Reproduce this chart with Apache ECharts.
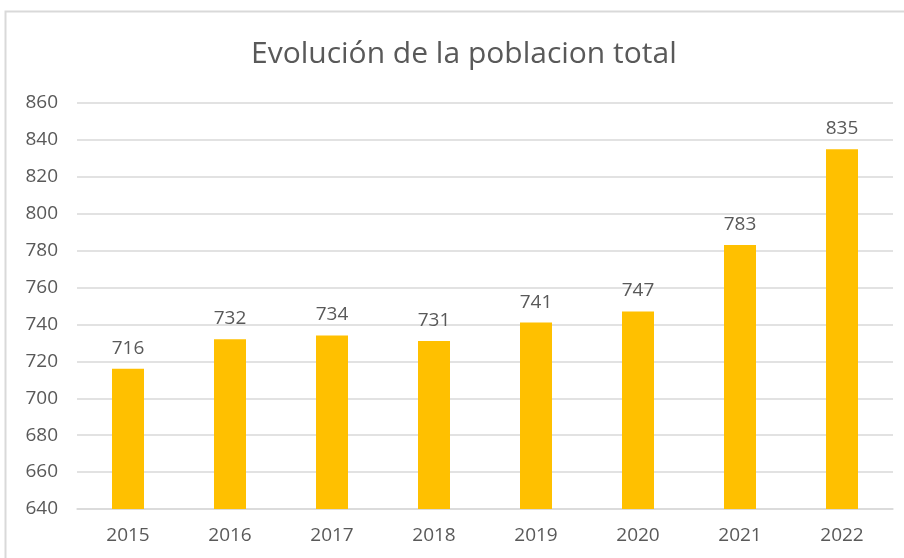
<!DOCTYPE html>
<html>
<head>
    <meta charset="utf-8">
    <title>Evolución de la poblacion total</title>
    <script src="https://cdn.jsdelivr.net/npm/echarts@6/dist/echarts.min.js"></script>
</head>
<body>
<div id="main"></div>
<style type="text/css">
    html, body {
        height: 100%;
        margin: 0;
        padding: 0;
        background: #fff;
    }

    #main {
        width: 904px;
        height: 558px
    }
</style>

<script type="text/javascript">
    var years = ['2015', '2016', '2017', '2018', '2019', '2020', '2021', '2022'];
    var poblacion = [716, 732, 734, 731, 741, 747, 783, 835];

    var fuente = '"Open Sans", "Noto Sans", sans-serif';
    var gris = '#595959';

    var myChart = echarts.init(document.getElementById('main'));

    var option = {
        backgroundColor: '#fff',
        animation: false,
        textStyle: { fontFamily: fuente },
        graphic: [{
            type: 'rect',
            shape: { x: 5.5, y: 11.5, width: 920, height: 560 },
            style: { fill: 'none', stroke: '#d9d9d9', lineWidth: 2 },
            silent: true
        }],
        title: {
            text: 'Evolución de la poblacion total',
            left: 246,
            top: 34,
            textStyle: {
                color: gris,
                fontSize: 30,
                fontWeight: 'normal',
                fontFamily: fuente
            }
        },
        grid: {
            left: 77,
            right: 11,
            top: 103,
            bottom: 49,
            containLabel: false
        },
        xAxis: {
            type: 'category',
            data: years,
            axisLine: { lineStyle: { color: '#d9d9d9', width: 1.5 } },
            axisTick: { show: false },
            axisLabel: {
                color: gris,
                fontSize: 19,
                margin: 17,
                fontFamily: fuente
            }
        },
        yAxis: {
            type: 'value',
            min: 640,
            max: 860,
            interval: 20,
            axisLine: { show: false },
            axisTick: { show: false },
            axisLabel: {
                color: gris,
                fontSize: 19,
                margin: 19,
                fontFamily: fuente
            },
            splitLine: { lineStyle: { color: '#d9d9d9', width: 1.5 } }
        },
        series: [{
            name: 'Poblacion',
            type: 'bar',
            data: poblacion,
            barWidth: 32,
            itemStyle: { color: '#ffc000' },
            label: {
                show: true,
                position: 'top',
                distance: 11,
                color: gris,
                fontSize: 19,
                fontFamily: fuente
            }
        }]
    };

    myChart.setOption(option);
</script>
</body>
</html>
